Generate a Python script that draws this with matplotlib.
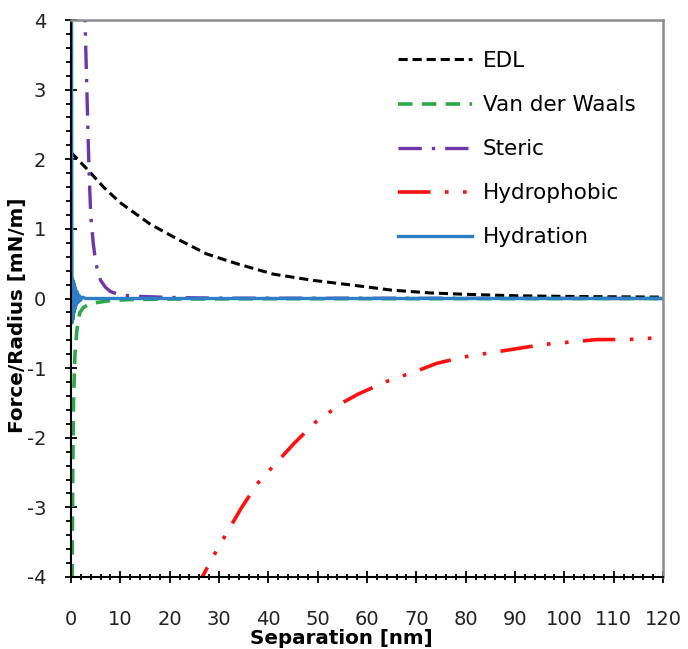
import matplotlib
matplotlib.use("Agg")
import matplotlib.pyplot as plt
from matplotlib.ticker import MultipleLocator

plt.rcParams['font.family'] = ['DejaVu Sans']
plt.rcParams['axes.unicode_minus'] = False

# ---- data ----
edl_x = [0.0, 3.5, 6.6, 9.9, 16.0, 21.4, 27.5, 33.6, 41.0, 49.1, 57.3, 65.0, 72.8, 80.0, 89.7, 100.0, 109.0, 120.0]
edl_y = [2.10, 1.84, 1.60, 1.38, 1.07, 0.86, 0.64, 0.50, 0.35, 0.26, 0.19, 0.12, 0.08, 0.06, 0.04, 0.03, 0.025, 0.02]

vdw_x = [0.1, 0.2, 0.35, 0.5, 0.8, 1.2, 1.8, 2.5, 4.0, 6.0, 8.0, 12.0, 20.0, 40.0, 120.0]
vdw_y = [-6.0, -4.5, -2.5, -1.5, -0.8, -0.45, -0.2, -0.13, -0.07, -0.05, -0.03, -0.015, -0.008, -0.003, 0.0]

steric_x = [2.6, 2.85, 3.1, 3.4, 3.7, 4.0, 4.5, 5.0, 5.5, 6.0, 7.0, 8.0, 10.0, 14.0, 20.0, 30.0, 120.0]
steric_y = [5.0, 4.0, 3.3, 2.5, 1.75, 1.2, 0.8, 0.52, 0.37, 0.26, 0.16, 0.10, 0.05, 0.03, 0.015, 0.005, 0.0]

hphob_x = [25.5, 26.6, 29.5, 34.6, 38.0, 45.1, 49.5, 55.2, 58.3, 64.0, 70.5, 74.2, 79.6, 90.4, 95.8, 106.6, 112.7, 120.0]
hphob_y = [-4.3, -4.0, -3.62, -3.0, -2.64, -2.09, -1.78, -1.49, -1.37, -1.19, -1.03, -0.93, -0.84, -0.72, -0.66, -0.59, -0.59, -0.56]

hydr_x = [0.0, 0.1, 0.2, 0.3, 0.4, 0.5, 0.6, 0.7, 0.8, 0.9, 1.0, 1.2, 1.4, 1.6, 1.9, 2.3, 3.0, 120.0]
hydr_y = [10.0, 4.2, -0.35, 0.28, -0.3, 0.25, -0.2, 0.2, -0.15, 0.15, -0.1, 0.1, -0.06, 0.05, -0.03, 0.02, 0.0, 0.0]

labels = ['EDL', 'Van der Waals', 'Steric', 'Hydrophobic', 'Hydration']

fig = plt.figure(figsize=(6.88, 6.49), dpi=100)
ax = fig.add_axes([71/688, 1-577/649, 592/688, 557/649])

l1, = ax.plot(edl_x, edl_y, color='black', lw=2.2, dashes=(3.0, 1.6), label=labels[0])
l2, = ax.plot(vdw_x, vdw_y, color='#2aaa4a', lw=2.6, dashes=(4.0, 2.6), label=labels[1])
l3, = ax.plot(steric_x, steric_y, color='#7035a8', lw=2.4, dashes=(7, 3, 1, 3), label=labels[2])
l4, = ax.plot(hphob_x, hphob_y, color='#ff1010', lw=2.6, dashes=(9, 4, 1, 4, 1, 4), label=labels[3])
l5, = ax.plot(hydr_x, hydr_y, color='#2c7fc6', lw=2.4, label=labels[4])

ax.set_xlim(0, 120)
ax.set_ylim(-4, 4)
ax.xaxis.set_major_locator(MultipleLocator(10))
ax.xaxis.set_minor_locator(MultipleLocator(2))
ax.yaxis.set_major_locator(MultipleLocator(1))
ax.yaxis.set_minor_locator(MultipleLocator(0.2))

ax.tick_params(axis='x', which='major', direction='inout', length=8, width=1.3, pad=20,
               labelsize=14, labelcolor='#222222', top=False)
ax.tick_params(axis='x', which='minor', direction='inout', length=5, width=1.3, top=False)
ax.tick_params(axis='y', which='major', direction='inout', length=8, width=1.3, pad=14,
               labelsize=14, labelcolor='#222222', right=False)
ax.tick_params(axis='y', which='minor', direction='out', length=3.5, width=1.3, right=False)

for s in ['left', 'bottom']:
    ax.spines[s].set_color('black')
    ax.spines[s].set_linewidth(1.5)
for s in ['top', 'right']:
    ax.spines[s].set_color('#8c8c8c')
    ax.spines[s].set_linewidth(1.8)

ax.set_xlabel('Separation [nm]', fontsize=14.3, fontweight='bold')
ax.set_ylabel('Force/Radius [mN/m]', fontsize=14.3, fontweight='bold')
ax.xaxis.set_label_coords(0.456, -0.094)
ax.yaxis.set_label_coords(-0.075, 0.4695)

leg = ax.legend(handles=[l1, l2, l3, l4, l5], loc='upper left',
                bbox_to_anchor=(398/688, 1-51/649), bbox_transform=fig.transFigure,
                frameon=False, fontsize=15.5, handlelength=3.44, handletextpad=0.5,
                labelspacing=1.12, borderpad=0, borderaxespad=0)

fig.savefig('out.png', dpi=100)
